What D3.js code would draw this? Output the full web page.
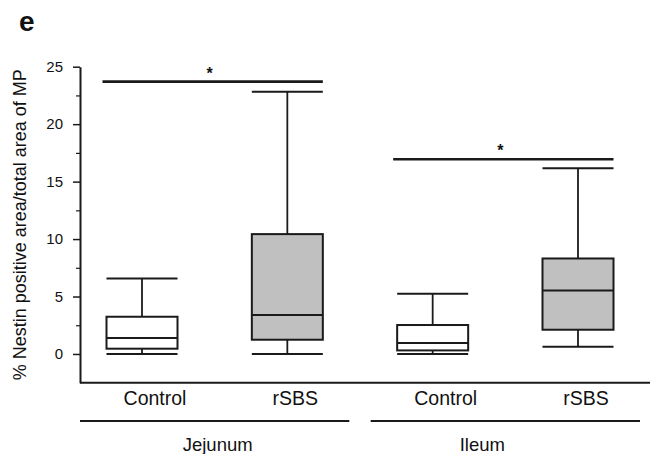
<!DOCTYPE html>
<html lang="en">
<head>
    <meta charset="UTF-8">
    <title>Nestin box plot</title>
    <script src="https://cdn.jsdelivr.net/npm/d3@7"></script>
    <style>
        body {
            margin: 0;
            padding: 0;
            background: #fff;
        }
        text {
            font-family: "Liberation Sans", Arial, sans-serif;
            fill: #111;
        }
    </style>
</head>
<body>
<svg width="651" height="454" id="mainsvg"></svg>
<script>
    // values
    const groups = ["Jejunum", "Jejunum", "Ileum", "Ileum"];
    const conditions = ["Control", "rSBS", "Control", "rSBS"];
    const whiskerLow = [0.0, 0.0, 0.0, 0.63];
    const q1 = [0.46, 1.24, 0.31, 2.11];
    const median = [1.39, 3.39, 0.96, 5.53];
    const q3 = [3.24, 10.43, 2.52, 8.31];
    const whiskerHigh = [6.57, 22.83, 5.24, 16.17];
    const sigFrom = [0, 2];
    const sigTo = [1, 3];
    const sigLevel = [23.7, 16.94];
    const yTicks = [0, 5, 10, 15, 20, 25];
    const yMinorTicks = [2.5, 7.5, 12.5, 17.5, 22.5];

    const boxFill = {Control: "#ffffff", rSBS: "#c0c0c0"};
    const ink = "#1a1a1a";

    const svg = d3.select("#mainsvg");

    const y = d3.scaleLinear().domain([-2.5, 25]).range([382.7, 66.7]);
    const x = d3.scalePoint().domain(d3.range(conditions.length)).range([142, 578]);
    const axisX = 80;
    const boxW = 71;

    // y axis with minor ticks
    svg.append("g")
        .attr("transform", "translate(" + axisX + ",0)")
        .call(d3.axisLeft(y).tickValues(yMinorTicks).tickSize(4).tickFormat(""))
        .call(g => g.select(".domain").remove())
        .selectAll("line").attr("stroke", ink).attr("stroke-width", 1.2);

    let yAxis = svg.append("g")
        .attr("transform", "translate(" + axisX + ",0)")
        .call(d3.axisLeft(y).tickValues(yTicks).tickSize(7).tickSizeOuter(0).tickPadding(10));
    yAxis.select(".domain").attr("stroke", ink).attr("stroke-width", 2);
    yAxis.selectAll(".tick line").attr("stroke", ink).attr("stroke-width", 1.5);
    yAxis.selectAll(".tick text")
        .attr("font-size", "15px")
        .attr("font-family", "Liberation Sans, Arial, sans-serif")
        .attr("fill", "#222");

    // bottom axis line
    svg.append("line")
        .attr("x1", axisX).attr("x2", 650)
        .attr("y1", y(-2.5)).attr("y2", y(-2.5))
        .attr("stroke", ink).attr("stroke-width", 2);

    // y title
    svg.append("text")
        .attr("transform", "translate(25.5," + (y(-2.5) + y(25)) / 2 + ") rotate(-90)")
        .attr("text-anchor", "middle")
        .attr("font-size", "18px")
        .attr("fill", "#222")
        .text("% Nestin positive area/total area of MP");

    // panel letter
    svg.append("text")
        .attr("x", 19).attr("y", 30.5)
        .attr("font-size", "28px")
        .attr("font-weight", "bold")
        .text("e");

    // boxes
    for (let i = 0; i < conditions.length; ++i) {
        let cx = x(i);
        let g = svg.append("g");
        // whisker stems
        g.append("line")
            .attr("x1", cx).attr("x2", cx)
            .attr("y1", y(whiskerHigh[i])).attr("y2", y(q3[i]))
            .attr("stroke", ink).attr("stroke-width", 1.8);
        g.append("line")
            .attr("x1", cx).attr("x2", cx)
            .attr("y1", y(q1[i])).attr("y2", y(whiskerLow[i]))
            .attr("stroke", ink).attr("stroke-width", 1.8);
        // caps
        [whiskerHigh[i], whiskerLow[i]].forEach(v => {
            g.append("line")
                .attr("x1", cx - boxW / 2).attr("x2", cx + boxW / 2)
                .attr("y1", y(v)).attr("y2", y(v))
                .attr("stroke", ink).attr("stroke-width", 2);
        });
        // box
        g.append("rect")
            .attr("x", cx - boxW / 2)
            .attr("y", y(q3[i]))
            .attr("width", boxW)
            .attr("height", y(q1[i]) - y(q3[i]))
            .attr("fill", boxFill[conditions[i]])
            .attr("stroke", ink).attr("stroke-width", 2);
        g.append("line")
            .attr("x1", cx - boxW / 2).attr("x2", cx + boxW / 2)
            .attr("y1", y(median[i])).attr("y2", y(median[i]))
            .attr("stroke", ink).attr("stroke-width", 2);
        // condition label
        svg.append("text")
            .attr("x", cx + (conditions[i] === "Control" ? 13 : 8))
            .attr("y", 405)
            .attr("text-anchor", "middle")
            .attr("font-size", "19.5px")
            .text(conditions[i]);
    }

    // significance bars
    for (let k = 0; k < sigFrom.length; ++k) {
        let x1 = x(sigFrom[k]) - boxW / 2 - 4;
        let x2 = x(sigTo[k]) + boxW / 2;
        svg.append("line")
            .attr("x1", x1).attr("x2", x2)
            .attr("y1", y(sigLevel[k])).attr("y2", y(sigLevel[k]))
            .attr("stroke", ink).attr("stroke-width", 2.6);
        svg.append("text")
            .attr("x", (x1 + x2) / 2 - 3)
            .attr("y", y(sigLevel[k]) - 3)
            .attr("text-anchor", "middle")
            .attr("font-size", "16px")
            .attr("font-weight", "bold")
            .text("*");
    }

    // group brackets
    const groupNames = Array.from(new Set(groups));
    const groupLabelDx = {Jejunum: 3, Ileum: -23};
    groupNames.forEach(name => {
        let idx = d3.range(groups.length).filter(i => groups[i] === name);
        let gx1 = x(idx[0]) - 62;
        let gx2 = x(idx[idx.length - 1]) + 62;
        svg.append("line")
            .attr("x1", gx1).attr("x2", gx2)
            .attr("y1", 421).attr("y2", 421)
            .attr("stroke", ink).attr("stroke-width", 2);
        svg.append("text")
            .attr("x", (gx1 + gx2) / 2 + groupLabelDx[name])
            .attr("y", 450.5)
            .attr("text-anchor", "middle")
            .attr("font-family", "Open Sans, sans-serif")
            .attr("font-size", "18.5px")
            .attr("fill", "#222")
            .text(name);
    });
</script>
</body>
</html>
